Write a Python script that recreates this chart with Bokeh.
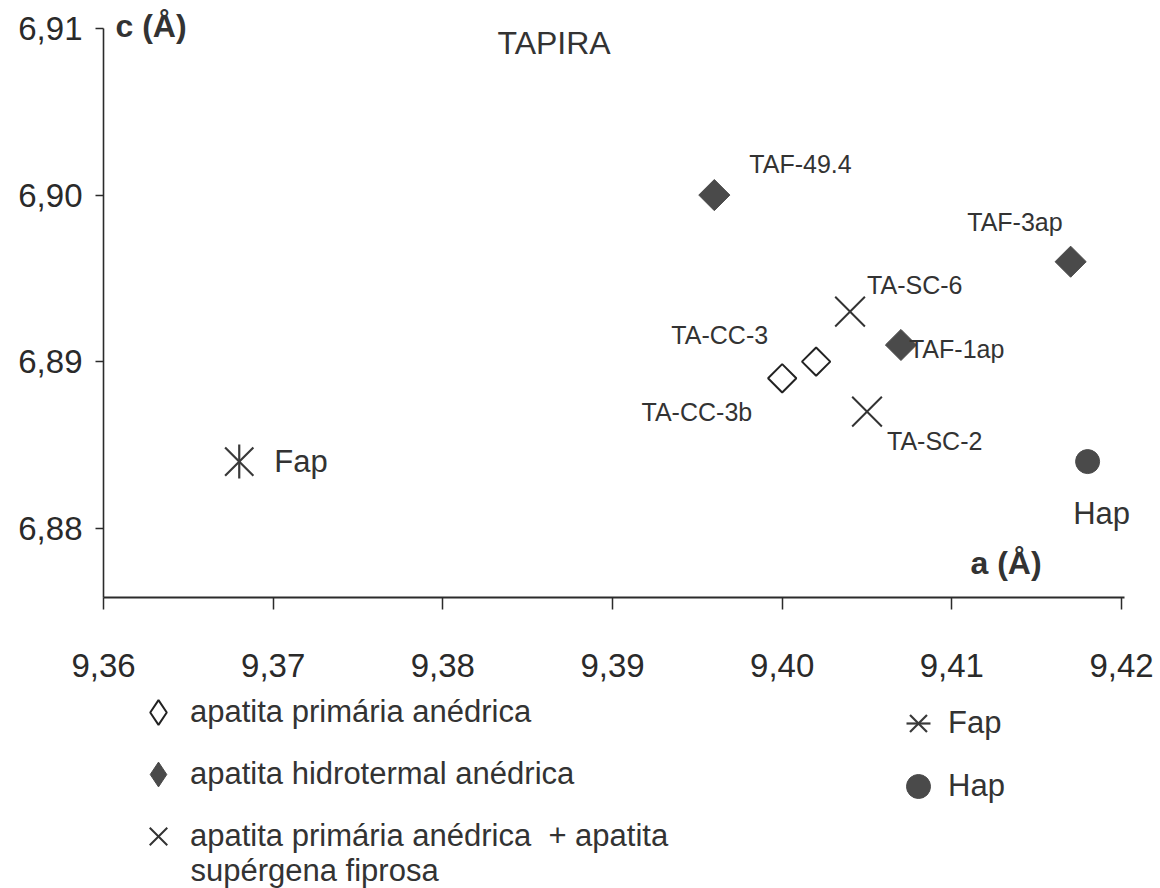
import math
from bokeh.plotting import figure
from bokeh.models import ColumnDataSource, Range1d, FixedTicker, Label, Legend, LegendItem
from bokeh.core.properties import value
from bokeh.embed import file_html
from bokeh.resources import INLINE

# ---------------- data ----------------
sample_names = ["TA-CC-3", "TA-CC-3b", "TAF-49.4", "TAF-3ap", "TAF-1ap", "TA-SC-6", "TA-SC-2"]
a_values = [9.402, 9.400, 9.396, 9.417, 9.407, 9.404, 9.405]
c_values = [6.890, 6.889, 6.900, 6.896, 6.891, 6.893, 6.887]
sample_groups = ["primaria", "primaria", "hidrotermal", "hidrotermal", "hidrotermal", "supergena", "supergena"]

ref_names = ["Fap", "Hap"]
ref_a = [9.368, 9.418]
ref_c = [6.884, 6.884]

x_ticks = [9.36, 9.37, 9.38, 9.39, 9.40, 9.41, 9.42]
x_tick_labels = ["9,36", "9,37", "9,38", "9,39", "9,40", "9,41", "9,42"]
y_ticks = [6.88, 6.89, 6.90, 6.91]
y_tick_labels = ["6,88", "6,89", "6,90", "6,91"]

group_order = ["primaria", "hidrotermal", "supergena"]
group_labels = ["apatita primária anédrica",
                "apatita hidrotermal anédrica",
                "apatita primária anédrica  + apatita"]
group_label_line2 = "supérgena fiprosa"

title_text = "TAPIRA"
x_title = "a (Å)"
y_title = "c (Å)"

# ---------------- styles / layout ----------------
FONT = "Liberation Sans"
TXT = "#333333"
W, H = 1160, 888
# the axes sit inside one full-canvas frame so that the texts and
# legends around them are never clipped
X_AXIS_AT = 6.87584
X_VIEW = (9.353929, 9.422297)
Y_VIEW = (6.858370, 6.911681)

marker_styles = {
    "primaria": dict(marker="square", angle=math.pi / 4, size=20, fill_color="white",
                     line_color="#222222", line_width=2),
    "hidrotermal": dict(marker="square", angle=math.pi / 4, size=22, fill_color="#4a4a4a",
                        line_color="#4a4a4a", line_width=1),
    "supergena": dict(marker="x", size=42, line_color="#333333", line_width=2),
}
# legend keys: the legend cannot rotate markers, so the diamonds get a diamond-marker
# key, drawn small underneath the plotted marker (fully hidden by it)
legend_styles = {
    "primaria": dict(marker="diamond", size=10, fill_color="white", line_color="#222222", line_width=2),
    "hidrotermal": dict(marker="diamond", size=10, fill_color="#4a4a4a", line_color="#4a4a4a", line_width=1),
}
# label placement: (x offset px, y offset px, align)
label_place = {
    "TA-CC-3": (-48, -27, "right"),
    "TA-CC-3b": (-30, 34, "right"),
    "TAF-49.4": (35, -31, "left"),
    "TAF-3ap": (-8, -40, "right"),
    "TAF-1ap": (8, 4, "left"),
    "TA-SC-6": (17, -27, "left"),
    "TA-SC-2": (20, 29, "left"),
}
ref_place = {"Fap": (35, 0, "left"), "Hap": (14, 52, "center")}

p = figure(width=W, height=H,
           x_range=Range1d(*X_VIEW), y_range=Range1d(*Y_VIEW),
           output_backend="svg", toolbar_location=None, min_border=0)
p.grid.visible = False
p.outline_line_color = None
p.background_fill_color = "white"
p.border_fill_color = "white"

# axes
p.xaxis.fixed_location = X_AXIS_AT
p.xaxis.bounds = (x_ticks[0], x_ticks[-1] + 0.0002)
p.yaxis.fixed_location = x_ticks[0]
p.yaxis.bounds = (X_AXIS_AT, y_ticks[-1])
p.xaxis.ticker = FixedTicker(ticks=x_ticks)
p.xaxis.major_label_overrides = dict(zip(x_ticks, x_tick_labels))
p.yaxis.ticker = FixedTicker(ticks=y_ticks)
p.yaxis.major_label_overrides = dict(zip(y_ticks, y_tick_labels))
for ax in (p.xaxis, p.yaxis):
    ax.minor_tick_line_color = None
    ax.axis_line_color = "#2b2b2b"
    ax.major_tick_line_color = "#2b2b2b"
    ax.major_tick_in = 0
    ax.major_label_text_font = FONT
    ax.major_label_text_font_size = "33px"
    ax.major_label_text_color = "#2a2a2a"
p.xaxis.axis_line_width = 2.2
p.xaxis.major_tick_line_width = 1.5
p.xaxis.major_tick_out = 12
p.xaxis.major_label_standoff = 44
p.yaxis.axis_line_width = 1.6
p.yaxis.major_tick_line_width = 1.5
p.yaxis.major_tick_out = 8
p.yaxis.major_label_standoff = 13

# sample points (legend keys first, so the real markers cover them)
sources = {}
for g in group_order:
    idx = [i for i, s in enumerate(sample_groups) if s == g]
    sources[g] = ColumnDataSource(dict(a=[a_values[i] for i in idx], c=[c_values[i] for i in idx]))
legend_keys = {}
for g, st in legend_styles.items():
    legend_keys[g] = p.scatter(x="a", y="c", source=sources[g], **st)
renderers = {}
for g in group_order:
    renderers[g] = p.scatter(x="a", y="c", source=sources[g], **marker_styles[g])
for g in group_order:
    legend_keys.setdefault(g, renderers[g])

lab_src = ColumnDataSource(dict(
    a=a_values, c=c_values, name=sample_names,
    dx=[label_place[n][0] for n in sample_names],
    dy=[label_place[n][1] for n in sample_names],
    align=[label_place[n][2] for n in sample_names],
))
p.text(x="a", y="c", text="name", source=lab_src, x_offset="dx", y_offset="dy",
       text_align="align", text_baseline="middle", text_font=value(FONT),
       text_font_size="25px", text_color=TXT)

# reference apatites
fap_src = ColumnDataSource(dict(a=ref_a[:1], c=ref_c[:1]))
hap_src = ColumnDataSource(dict(a=ref_a[1:], c=ref_c[1:]))
r_fap_x = p.scatter(x="a", y="c", source=fap_src, marker="x", size=40,
                    line_color="#3a3a3a", line_width=2.2)
r_fap_v = p.scatter(x="a", y="c", source=fap_src, marker="dash", angle=math.pi / 2, size=34,
                    line_color="#3a3a3a", line_width=2.2)
r_hap = p.scatter(x="a", y="c", source=hap_src, marker="circle", size=24,
                  fill_color="#4a4a4a", line_color="#4a4a4a")

ref_src = ColumnDataSource(dict(
    a=ref_a, c=ref_c, name=ref_names,
    dx=[ref_place[n][0] for n in ref_names],
    dy=[ref_place[n][1] for n in ref_names],
    align=[ref_place[n][2] for n in ref_names],
))
p.text(x="a", y="c", text="name", source=ref_src, x_offset="dx", y_offset="dy",
       text_align="align", text_baseline="middle", text_font=value(FONT),
       text_font_size="31px", text_color=TXT)

# titles (screen units measured from the canvas' bottom-left)
p.add_layout(Label(x=497, y=H - 42, x_units="screen", y_units="screen", text=title_text,
                   text_font=FONT, text_font_size="32px", text_color=TXT, text_baseline="middle"))
p.add_layout(Label(x=115, y=H - 25, x_units="screen", y_units="screen", text=y_title,
                   text_font=FONT, text_font_size="32px", text_font_style="bold",
                   text_color=TXT, text_baseline="middle"))
p.add_layout(Label(x=970, y=H - 562, x_units="screen", y_units="screen", text=x_title,
                   text_font=FONT, text_font_size="32px", text_font_style="bold",
                   text_color=TXT, text_baseline="middle"))

# legends
left_legend = Legend(
    items=[LegendItem(label=lbl, renderers=[legend_keys[g]]) for g, lbl in zip(group_order, group_labels)],
    location=(127, 21), orientation="vertical", glyph_width=62, glyph_height=62,
    spacing=0, label_standoff=1, padding=0, margin=0, border_line_color=None,
    background_fill_alpha=0, label_text_font=FONT, label_text_font_size="31px",
    label_text_color=TXT)
p.add_layout(left_legend)
p.add_layout(Label(x=190, y=18, x_units="screen", y_units="screen", text=group_label_line2,
                   text_font=FONT, text_font_size="31px", text_color=TXT, text_baseline="middle"))

right_legend = Legend(
    items=[LegendItem(label=ref_names[0], renderers=[r_fap_x, r_fap_v]),
           LegendItem(label=ref_names[1], renderers=[r_hap])],
    location=(888, 72), orientation="vertical", glyph_width=60, glyph_height=60,
    spacing=3, label_standoff=0, padding=0, margin=0, border_line_color=None,
    background_fill_alpha=0, label_text_font=FONT, label_text_font_size="31px",
    label_text_color=TXT)
p.add_layout(right_legend)

open("out.html", "w").write(file_html(p, INLINE))
